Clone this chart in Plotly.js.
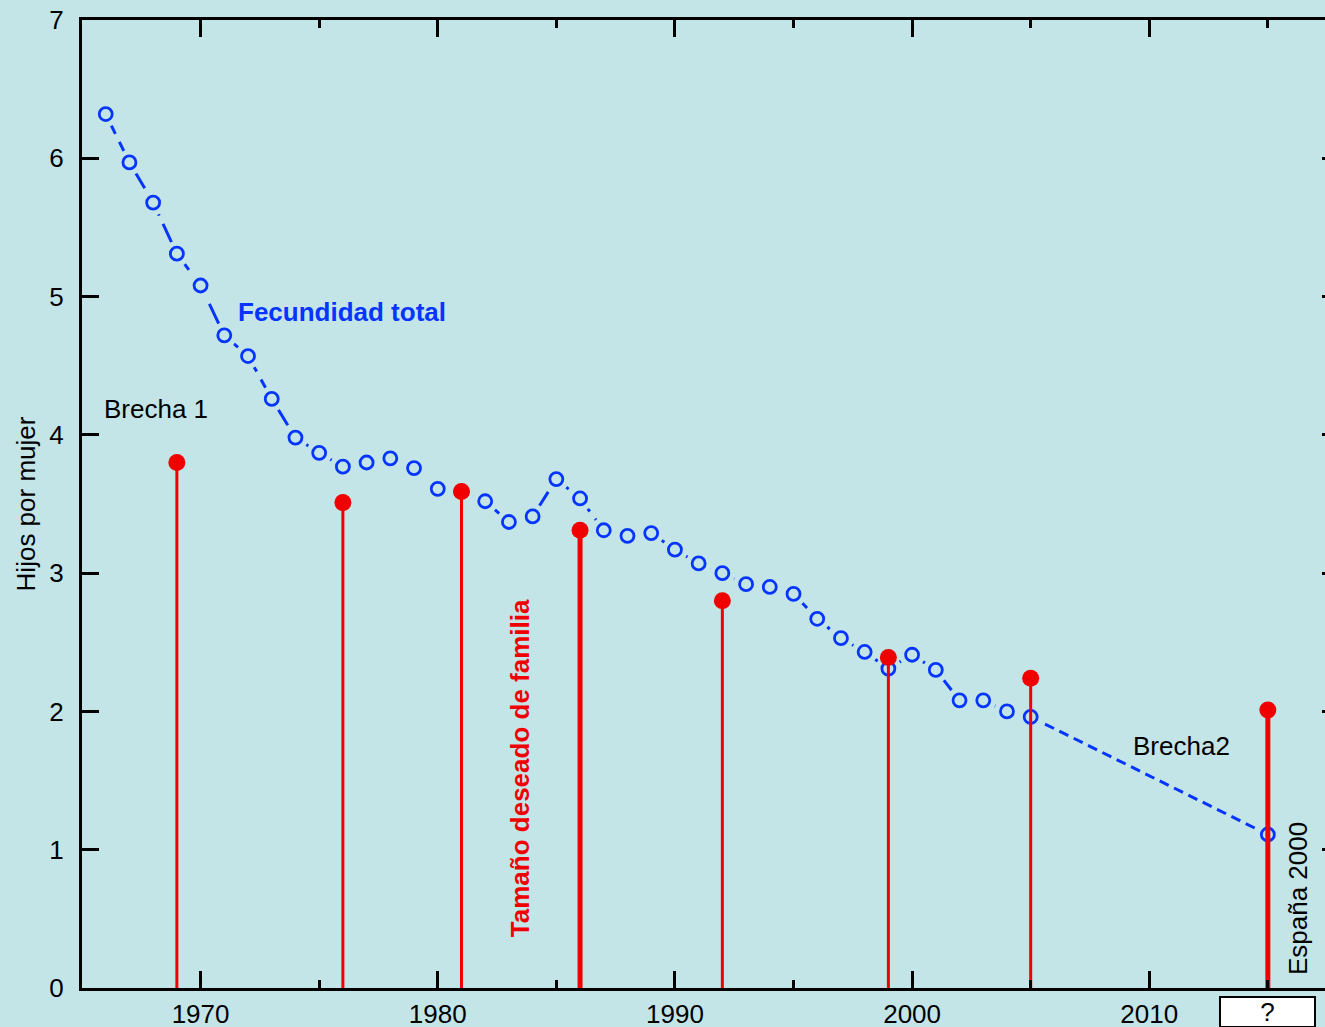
<!DOCTYPE html>
<html>
<head>
<meta charset="utf-8">
<script src="https://cdn.plot.ly/plotly-3.0.1.min.js"></script>
<style>
html, body { margin: 0; padding: 0; overflow: hidden; background: #c4e5e8; }
#chart { width: 1340px; height: 1027px; }
</style>
</head>
<body>
<div id="chart"></div>
<script>
// ---- Data ----
const fecundidadYears = [1966,1967,1968,1969,1970,1971,1972,1973,1974,1975,
                         1976,1977,1978,1979,1980,1981,1982,1983,1984,1985,
                         1986,1987,1988,1989,1990,1991,1992,1993,1994,1995,
                         1996,1997,1998,1999,2000,2001,2002,2003,2004,2005];
const fecundidadValues = [6.32,5.97,5.68,5.31,5.08,4.72,4.57,4.26,3.98,3.87,
                          3.77,3.80,3.83,3.76,3.61,3.59,3.52,3.37,3.41,3.68,
                          3.54,3.31,3.27,3.29,3.17,3.07,3.00,2.92,2.90,2.85,
                          2.67,2.53,2.43,2.31,2.41,2.30,2.08,2.08,2.00,1.96];
const proyeccionYears = [2005, 2015];
const proyeccionValues = [1.96, 1.11];
const deseadoYears = [1969, 1976, 1981, 1986, 1992, 1999, 2005, 2015];
const deseadoValues = [3.80, 3.51, 3.59, 3.31, 2.80, 2.39, 2.24, 2.01];
const thickStemYears = [1986, 2015];
const xTickValues = [1970, 1980, 1990, 2000, 2010];
const xTickLabels = ['1970', '1980', '1990', '2000', '2010'];
const yTickValues = [0, 1, 2, 3, 4, 5, 6, 7];

// ---- Styles ----
const BG = '#c4e5e8';
const BLUE = '#0535ff';
const RED = '#f00000';
const FONT = 'Liberation Sans, Arial, Helvetica, sans-serif';

function stems(filterFn) {
  const xs = [], ys = [];
  deseadoYears.forEach((yr, i) => {
    if (!filterFn(yr)) return;
    xs.push(yr, yr, null);
    ys.push(0, deseadoValues[i], null);
  });
  return {xs, ys};
}
const thin = stems(yr => !thickStemYears.includes(yr));
const thick = stems(yr => thickStemYears.includes(yr));

const allBlueX = fecundidadYears.concat(proyeccionYears.slice(1));
const allBlueY = fecundidadValues.concat(proyeccionValues.slice(1));

const traces = [
  { // historical dashed line
    x: fecundidadYears, y: fecundidadValues, type: 'scatter', mode: 'lines',
    line: {color: BLUE, width: 3, dash: '22px,9px'}, hoverinfo: 'skip', showlegend: false
  },
  { // projection dashed line
    x: proyeccionYears, y: proyeccionValues, type: 'scatter', mode: 'lines',
    line: {color: BLUE, width: 3, dash: '10px,6px'}, hoverinfo: 'skip', showlegend: false
  },
  { // background halo around markers (blanks the line near each circle)
    x: allBlueX, y: allBlueY, type: 'scatter', mode: 'markers',
    marker: {symbol: 'circle', size: 26, color: BG, line: {width: 0}},
    hoverinfo: 'skip', showlegend: false
  },
  { // open circles
    x: allBlueX, y: allBlueY, type: 'scatter', mode: 'markers',
    marker: {symbol: 'circle', size: 13, color: BG, line: {color: BLUE, width: 2.8}},
    showlegend: false
  },
  {
    x: thin.xs, y: thin.ys, type: 'scatter', mode: 'lines',
    line: {color: RED, width: 3}, hoverinfo: 'skip', showlegend: false
  },
  {
    x: thick.xs, y: thick.ys, type: 'scatter', mode: 'lines',
    line: {color: RED, width: 5}, hoverinfo: 'skip', showlegend: false
  },
  {
    x: deseadoYears, y: deseadoValues, type: 'scatter', mode: 'markers',
    marker: {symbol: 'circle', size: 17, color: RED},
    showlegend: false
  }
];

const layout = {
  width: 1340, height: 1027,
  margin: {l: 82, r: 1, t: 20, b: 39},
  paper_bgcolor: BG, plot_bgcolor: BG,
  font: {family: FONT, size: 26, color: '#000'},
  showlegend: false,
  xaxis: {
    range: [1965, 2018], tickmode: 'array', tickvals: xTickValues, ticktext: xTickLabels,
    ticks: 'inside', ticklen: 17, tickwidth: 3, tickcolor: '#000',
    minor: {dtick: 5, tick0: 1965, ticks: 'inside', ticklen: 8, tickwidth: 3, tickcolor: '#000', showgrid: false},
    showline: true, linewidth: 3, linecolor: '#000', mirror: 'ticks',
    showgrid: false, zeroline: false, ticklabelstandoff: 1,
    tickfont: {size: 26, family: FONT}
  },
  yaxis: {
    range: [0, 7], tickmode: 'array', tickvals: yTickValues,
    ticks: 'inside', ticklen: 17, tickwidth: 3, tickcolor: '#000',
    showline: true, linewidth: 3, linecolor: '#000', mirror: 'ticks',
    showgrid: false, zeroline: false, ticklabelstandoff: 10,
    tickfont: {size: 26, family: FONT},
    title: {text: 'Hijos por mujer', font: {size: 26, family: FONT}, standoff: 7}
  },
  annotations: [
    {x: 1971.49, y: 4.89, xref: 'x', yref: 'y', xanchor: 'left', yanchor: 'middle',
     text: 'Fecundidad total', showarrow: false,
     font: {size: 26, family: FONT, color: BLUE, weight: 700}},
    {x: 1965.84, y: 4.19, xref: 'x', yref: 'y', xanchor: 'left', yanchor: 'middle',
     text: 'Brecha 1', showarrow: false, font: {size: 26, family: FONT, color: '#000'}},
    {x: 2009.22, y: 1.75, xref: 'x', yref: 'y', xanchor: 'left', yanchor: 'middle',
     text: 'Brecha2', showarrow: false, font: {size: 26, family: FONT, color: '#000'}},
    {x: 1983.47, y: 1.59, xref: 'x', yref: 'y', xanchor: 'center', yanchor: 'middle',
     text: 'Tamaño deseado de familia', textangle: -90, showarrow: false,
     font: {size: 26, family: FONT, color: RED, weight: 700}},
    {x: 2016.27, y: 0.65, xref: 'x', yref: 'y', xanchor: 'center', yanchor: 'middle',
     text: 'España 2000', textangle: -90, showarrow: false,
     font: {size: 26, family: FONT, color: '#000'}},
    {x: 2015, y: 0, xref: 'x', yref: 'paper', xanchor: 'center', yanchor: 'top', yshift: -8,
     text: '?', showarrow: false, bgcolor: '#ffffff', bordercolor: '#000', borderwidth: 2,
     borderpad: 0, width: 93, height: 28, font: {size: 26, family: FONT, color: '#000'}}
  ]
};

Plotly.newPlot('chart', traces, layout, {displayModeBar: false, staticPlot: true});
</script>
</body>
</html>
